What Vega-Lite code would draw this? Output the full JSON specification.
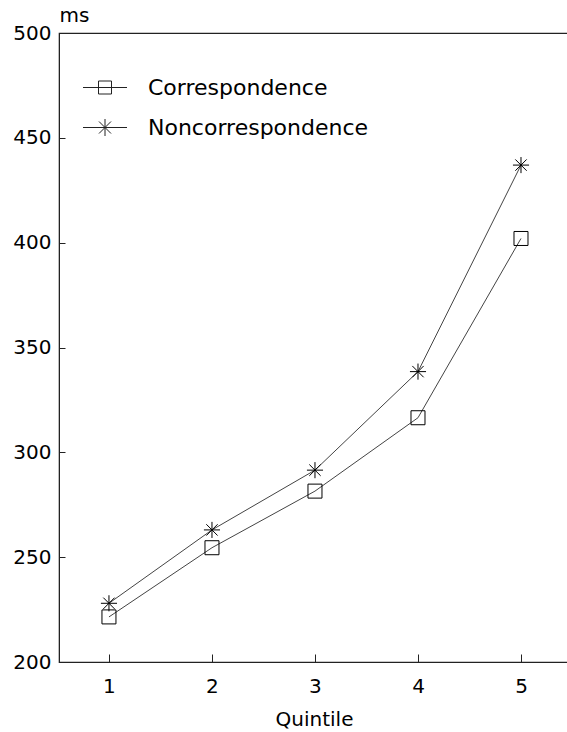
{
  "$schema": "https://vega.github.io/schema/vega-lite/v6.json",
  "width": 510,
  "height": 629,
  "autosize": {"type": "none"},
  "padding": {"left": 59, "top": 33, "right": 0, "bottom": 70},
  "background": "white",
  "config": {
    "view": {"stroke": "#222", "strokeWidth": 1.2},
    "font": "DejaVu Sans"
  },
  "data": {
    "values": [
      {"Quintile": 1, "ms": 221.5, "Condition": "Correspondence"},
      {"Quintile": 2, "ms": 254.5, "Condition": "Correspondence"},
      {"Quintile": 3, "ms": 281.5, "Condition": "Correspondence"},
      {"Quintile": 4, "ms": 316.5, "Condition": "Correspondence"},
      {"Quintile": 5, "ms": 402, "Condition": "Correspondence"},
      {"Quintile": 1, "ms": 228, "Condition": "Noncorrespondence"},
      {"Quintile": 2, "ms": 263, "Condition": "Noncorrespondence"},
      {"Quintile": 3, "ms": 291.5, "Condition": "Noncorrespondence"},
      {"Quintile": 4, "ms": 338.5, "Condition": "Noncorrespondence"},
      {"Quintile": 5, "ms": 437, "Condition": "Noncorrespondence"}
    ]
  },
  "encoding": {
    "x": {
      "field": "Quintile",
      "type": "quantitative",
      "scale": {"domain": [0.515, 5.466], "nice": false, "zero": false},
      "axis": {
        "values": [1, 2, 3, 4, 5],
        "format": "d",
        "title": "Quintile",
        "grid": false,
        "tickSize": -8,
        "labelPadding": 22,
        "labelFontSize": 20,
        "labelColor": "black",
        "labelFont": "DejaVu Sans",
        "domainColor": "#222",
        "tickColor": "#222",
        "titleFont": "DejaVu Sans",
        "titleFontSize": 20,
        "titleFontWeight": "normal",
        "titleColor": "black",
        "titleBaseline": "alphabetic",
        "titleY": 63
      }
    },
    "y": {
      "field": "ms",
      "type": "quantitative",
      "scale": {"domain": [200, 500], "nice": false, "zero": false},
      "axis": {
        "values": [200, 250, 300, 350, 400, 450, 500],
        "title": "ms",
        "titleAngle": 0,
        "titleAlign": "left",
        "titleBaseline": "alphabetic",
        "titleX": 0,
        "titleY": -12,
        "titleFont": "DejaVu Sans",
        "titleFontSize": 20,
        "titleFontWeight": "normal",
        "titleColor": "black",
        "grid": false,
        "tickSize": -6,
        "labelPadding": 14,
        "labelFontSize": 20,
        "labelColor": "black",
        "labelFont": "DejaVu Sans",
        "domainColor": "#222",
        "tickColor": "#222"
      }
    }
  },
  "layer": [
    {
      "mark": {"type": "line", "stroke": "#444", "strokeWidth": 1},
      "encoding": {"detail": {"field": "Condition"}}
    },
    {
      "mark": {"type": "point", "filled": false, "stroke": "black", "strokeWidth": 1, "opacity": 1, "size": 196},
      "encoding": {
        "shape": {
          "field": "Condition",
          "type": "nominal",
          "scale": {
            "domain": ["Correspondence", "Noncorrespondence"],
            "range": ["square", "M-1.15,0H1.15M0,-1.15V1.15M-0.81,-0.81L0.81,0.81M-0.81,0.81L0.81,-0.81"]
          },
          "legend": null
        }
      }
    },
    {
      "mark": {"type": "point", "filled": false, "stroke": "#222", "strokeWidth": 1, "opacity": 0, "size": 400},
      "encoding": {
        "shape": {
          "field": "Condition",
          "type": "nominal",
          "scale": {
            "domain": ["Correspondence", "Noncorrespondence"],
            "range": ["M-2.2,0H2.2M-0.65,-0.65H0.65V0.65H-0.65Z", "M-2.2,0H2.2M0,-0.85V0.85M-0.6,-0.6L0.6,0.6M-0.6,0.6L0.6,-0.6"]
          },
          "legend": {
            "orient": "none",
            "legendX": 35,
            "legendY": 43.5,
            "title": null,
            "padding": 0,
            "symbolSize": 400,
            "symbolOpacity": 1,
            "symbolStrokeWidth": 1,
            "symbolStrokeColor": "#222",
            "symbolFillColor": "transparent",
            "labelFont": "DejaVu Sans",
            "labelFontSize": 22,
            "labelColor": "black",
            "labelOffset": 32,
            "labelLimit": 400,
            "rowPadding": 18
          }
        }
      }
    }
  ],
  "resolve": {"scale": {"shape": "independent"}, "legend": {"shape": "independent"}}
}
